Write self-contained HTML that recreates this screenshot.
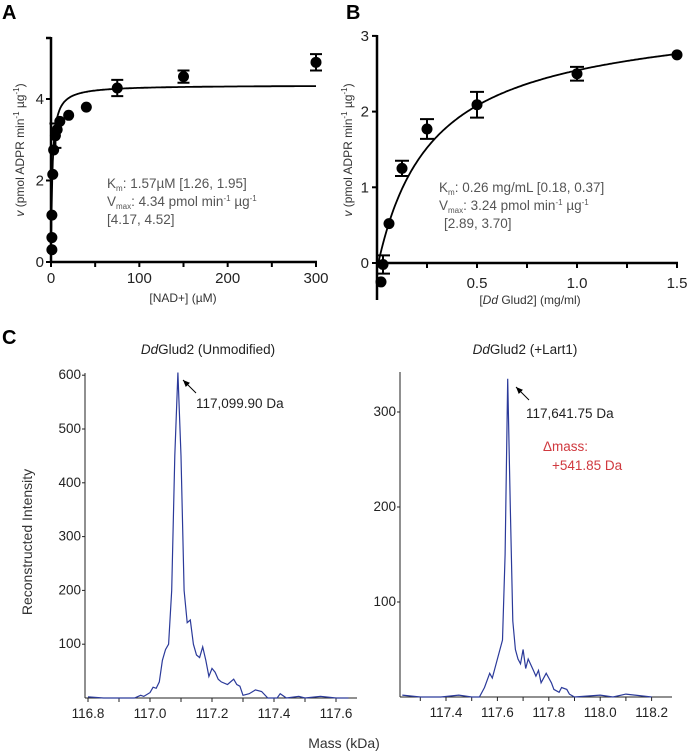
<!DOCTYPE html>
<html><head><meta charset="utf-8"><style>
body{margin:0;background:#fff}
svg{display:block;font-family:"Liberation Sans",sans-serif}
</style></head><body>
<svg id="fig" width="688" height="751" viewBox="0 0 688 751">
<g font-weight="bold" font-size="20" fill="#000">
<text x="2" y="19">A</text>
<text x="346" y="19">B</text>
<text x="2" y="344">C</text>
</g>
<g id="pa"></g>
<g id="pb"></g>
<g id="pc"></g>
</svg>
<script>
// Panel A data
const aX=[1,1,1,2,3,5,7,10,20,40,75,150,300];
const aY=[0.3,0.6,1.15,2.15,2.75,3.1,3.25,3.45,3.6,3.8,4.27,4.55,4.9];
const aErr=[0,0,0,0,0,0.3,0,0,0,0,0.2,0.15,0.2];
const aXTicks=[0,100,200,300];
const aYTicks=[0,2,4];
const aVmax=4.34, aKm=1.57;
// Panel B data
const bX=[0.02,0.03,0.06,0.125,0.25,0.5,1.0,1.5];
const bY=[-0.25,-0.02,0.52,1.25,1.77,2.09,2.5,2.75];
const bErr=[0,0.12,0,0.1,0.13,0.17,0.09,0];
const bXTicks=[0.5,1.0,1.5];
const bXTickLabels=["0.5","1.0","1.5"];
const bYTicks=[0,1,2,3];
const bVmax=3.24, bKm=0.26;
// Panel C spectra
const cLMass=[116.80,116.85,116.9,116.95,116.97,116.98,117.0,117.01,117.02,117.03,117.04,117.05,117.06,117.07,117.08,117.09,117.1,117.11,117.12,117.13,117.14,117.15,117.16,117.17,117.18,117.19,117.2,117.21,117.22,117.23,117.25,117.27,117.28,117.29,117.3,117.32,117.34,117.36,117.38,117.41,117.42,117.44,117.48,117.5,117.55,117.6,117.64];
const cLInt=[2,0,0,0,5,3,10,20,18,30,70,90,100,200,450,605,450,200,140,145,100,80,75,95,70,40,55,48,35,30,25,35,25,22,5,8,15,12,0,0,8,0,3,0,3,0,0];
const cRMass=[117.23,117.3,117.38,117.45,117.5,117.53,117.55,117.57,117.58,117.6,117.62,117.63,117.64,117.65,117.66,117.67,117.68,117.69,117.7,117.71,117.72,117.74,117.75,117.76,117.77,117.79,117.8,117.81,117.82,117.84,117.85,117.87,117.88,117.9,118.0,118.05,118.1,118.2];
const cRInt=[2,0,0,2,0,0,10,25,20,40,60,150,335,200,80,50,40,35,50,30,40,28,22,28,15,25,20,15,8,5,10,8,3,0,2,0,3,0];
const cLXTicks=[116.8,117.0,117.2,117.4,117.6];
const cLYTicks=[100,200,300,400,500,600];
const cRXTicks=[117.4,117.6,117.8,118.0,118.2];
const cRYTicks=[100,200,300];

const NS="http://www.w3.org/2000/svg";
function mk(p,t,a,txt){const e=document.createElementNS(NS,t);for(const k in a)e.setAttribute(k,a[k]);if(txt!==undefined)e.textContent=txt;p.appendChild(e);return e;}

// ---- Panel A ----
(function(){
const g=document.getElementById('pa');
const sx=v=>51+v*(265/300), sy=v=>262-v*40.75;
let e=mk(g,'line',{x1:51,y1:37,x2:51,y2:262,stroke:'#000','stroke-width':2.5});

e=mk(g,'line',{x1:50,y1:262,x2:317,y2:262,stroke:'#000','stroke-width':2.5});

mk(g,'line',{x1:46,y1:38,x2:51,y2:38,stroke:'#000','stroke-width':2.5});
for(let v=0;v<=300;v+=50){mk(g,'line',{x1:sx(v),y1:262,x2:sx(v),y2:267,stroke:'#000','stroke-width':2});}
aXTicks.forEach(v=>{e=mk(g,'text',{x:sx(v),y:283,'text-anchor':'middle','font-size':15,fill:'#222'},v);
});
aYTicks.forEach(v=>{mk(g,'line',{x1:46,y1:sy(v),x2:51,y2:sy(v),stroke:'#000','stroke-width':2});
e=mk(g,'text',{x:44,y:sy(v)+5,'text-anchor':'end','font-size':15,fill:'#222'},v);
});
let d='';for(let i=0;i<=300;i++){const x=i*i/300;const y=aVmax*x/(aKm+x);d+=(i?'L':'M')+sx(x).toFixed(1)+','+sy(y).toFixed(1);}
e=mk(g,'path',{d:d,fill:'none',stroke:'#000','stroke-width':1.8});

aX.forEach((x,i)=>{const cx=sx(x),cy=sy(aY[i]);
if(aErr[i]){const t=sy(aY[i]+aErr[i]),b=sy(aY[i]-aErr[i]);
mk(g,'path',{d:`M${cx},${t}V${b}M${cx-6},${t}H${cx+6}M${cx-6},${b}H${cx+6}`,stroke:'#000','stroke-width':2,fill:'none'});}
e=mk(g,'circle',{cx:cx,cy:cy,r:5.5,fill:'#000'});
});
e=mk(g,'text',{x:183,y:302,'text-anchor':'middle','font-size':12,fill:'#333'},'[NAD+] (µM)');

e=mk(g,'text',{transform:'translate(24,150) rotate(-90)','text-anchor':'middle','font-size':12,fill:'#333'});
e.innerHTML='<tspan font-style="italic">v</tspan> (pmol ADPR min<tspan font-size="8" dy="-5">-1</tspan><tspan dy="5"> µg</tspan><tspan font-size="8" dy="-5">-1</tspan><tspan dy="5">)</tspan>';

e=mk(g,'text',{x:107,y:188,'font-size':13.5,fill:'#555'});
e.innerHTML='K<tspan font-size="8" dy="3">m</tspan><tspan dy="-3">: 1.57µM [1.26, 1.95]</tspan>';

e=mk(g,'text',{x:107,y:206,'font-size':13.5,fill:'#555'});
e.innerHTML='V<tspan font-size="8" dy="3">max</tspan><tspan dy="-3">: 4.34 pmol min</tspan><tspan font-size="8" dy="-5">-1</tspan><tspan dy="5"> µg</tspan><tspan font-size="8" dy="-5">-1</tspan>';

e=mk(g,'text',{x:107,y:224,'font-size':13.5,fill:'#555'},'[4.17, 4.52]');

})();

// ---- Panel B ----
(function(){
const g=document.getElementById('pb');
const sx=v=>377+v*200, sy=v=>263-v*75.7;
let e=mk(g,'line',{x1:377,y1:35,x2:377,y2:300,stroke:'#000','stroke-width':2.5});

e=mk(g,'line',{x1:376,y1:263,x2:678,y2:263,stroke:'#000','stroke-width':2.5});

for(let v=0.25;v<=1.5001;v+=0.25){mk(g,'line',{x1:sx(v),y1:263,x2:sx(v),y2:268,stroke:'#000','stroke-width':2});}
bXTicks.forEach((v,i)=>{e=mk(g,'text',{x:sx(v),y:288,'text-anchor':'middle','font-size':15,fill:'#222'},bXTickLabels[i]);
});
bYTicks.forEach(v=>{mk(g,'line',{x1:372,y1:sy(v),x2:377,y2:sy(v),stroke:'#000','stroke-width':2});
e=mk(g,'text',{x:369,y:sy(v)+5,'text-anchor':'end','font-size':15,fill:'#222'},v);
});
let d='';for(let i=0;i<=200;i++){const x=1.5*i/200;const y=bVmax*x/(bKm+x)-0.08*(1-x/1.5);d+=(i?'L':'M')+sx(x).toFixed(1)+','+sy(y).toFixed(1);}
e=mk(g,'path',{d:d,fill:'none',stroke:'#000','stroke-width':1.8});

bX.forEach((x,i)=>{const cx=sx(x),cy=sy(bY[i]);
if(bErr[i]){const t=sy(bY[i]+bErr[i]),b=sy(bY[i]-bErr[i]);
mk(g,'path',{d:`M${cx},${t}V${b}M${cx-7},${t}H${cx+7}M${cx-7},${b}H${cx+7}`,stroke:'#000','stroke-width':2,fill:'none'});}
e=mk(g,'circle',{cx:cx,cy:cy,r:5.5,fill:'#000'});
});
e=mk(g,'text',{x:530,y:304,'text-anchor':'middle','font-size':12,fill:'#333'});
e.innerHTML='[<tspan font-style="italic">Dd</tspan> Glud2] (mg/ml)';

e=mk(g,'text',{transform:'translate(352,150) rotate(-90)','text-anchor':'middle','font-size':12,fill:'#333'});
e.innerHTML='<tspan font-style="italic">v</tspan> (pmol ADPR min<tspan font-size="8" dy="-5">-1</tspan><tspan dy="5"> µg</tspan><tspan font-size="8" dy="-5">-1</tspan><tspan dy="5">)</tspan>';

e=mk(g,'text',{x:439,y:192,'font-size':13.5,fill:'#555'});
e.innerHTML='K<tspan font-size="8" dy="3">m</tspan><tspan dy="-3">: 0.26 mg/mL [0.18, 0.37]</tspan>';

e=mk(g,'text',{x:439,y:210,'font-size':13.5,fill:'#555'});
e.innerHTML='V<tspan font-size="8" dy="3">max</tspan><tspan dy="-3">: 3.24 pmol min</tspan><tspan font-size="8" dy="-5">-1</tspan><tspan dy="5"> µg</tspan><tspan font-size="8" dy="-5">-1</tspan>';

e=mk(g,'text',{x:444,y:228,'font-size':13.5,fill:'#555'},'[2.89, 3.70]');

})();

// ---- Panel C ----
(function(){
const g=document.getElementById('pc');
function spec(o){
 const sx=v=>o.x0+(v-o.m0)*o.kx, sy=v=>o.y0-v*o.ky;
 let e=mk(g,'line',{x1:o.ax,y1:o.top,x2:o.ax,y2:o.y0,stroke:'#222','stroke-width':1});
 
 e=mk(g,'line',{x1:o.ax,y1:o.y0,x2:o.xend,y2:o.y0,stroke:'#222','stroke-width':1});
 
 for(let m=o.tickStart;m<=o.tickEnd+1e-6;m+=0.1){mk(g,'line',{x1:sx(m),y1:o.y0,x2:sx(m),y2:o.y0+4,stroke:'#222','stroke-width':1});}
 o.xt.forEach(v=>{e=mk(g,'text',{x:sx(v),y:o.y0+20,'text-anchor':'middle','font-size':13.5,fill:'#222'},v.toFixed(1));
 });
 o.yt.forEach(v=>{mk(g,'line',{x1:o.ax-3,y1:sy(v),x2:o.ax,y2:sy(v),stroke:'#222','stroke-width':1});
 e=mk(g,'text',{x:o.ax-4,y:sy(v)+4,'text-anchor':'end','font-size':13.5,fill:'#222'},v);
 });
 let d='';o.mass.forEach((m,i)=>{d+=(i?'L':'M')+sx(m).toFixed(1)+','+sy(o.inten[i]).toFixed(1);});
 e=mk(g,'path',{d:d,fill:'none',stroke:'#2b3a9a','stroke-width':1.2});
 
}
spec({p:'c-left',ax:85,top:373,y0:698,xend:357,x0:88,m0:116.8,kx:310,ky:0.538,tickStart:116.8,tickEnd:117.6,xt:cLXTicks,yt:cLYTicks,mass:cLMass,inten:cLInt});
spec({p:'c-right',ax:400,top:372,y0:697,xend:672,x0:446,m0:117.4,kx:257,ky:0.95,tickStart:117.3,tickEnd:118.2,xt:cRXTicks,yt:cRYTicks,mass:cRMass,inten:cRInt});
let e=mk(g,'text',{x:208,y:354,'text-anchor':'middle','font-size':13.5,fill:'#222'});
e.innerHTML='<tspan font-style="italic">Dd</tspan>Glud2 (Unmodified)';

e=mk(g,'text',{x:525,y:354,'text-anchor':'middle','font-size':13.5,fill:'#222'});
e.innerHTML='<tspan font-style="italic">Dd</tspan>Glud2 (+Lart1)';

mk(g,'defs',{}).innerHTML='<marker id="ah" markerWidth="8" markerHeight="8" refX="7" refY="4" orient="auto"><path d="M0,1L7,4L0,7z" fill="#000"/></marker>';
mk(g,'line',{x1:196,y1:393,x2:183,y2:380,stroke:'#000','stroke-width':1,'marker-end':'url(#ah)'});
mk(g,'line',{x1:529,y1:400,x2:516,y2:387,stroke:'#000','stroke-width':1,'marker-end':'url(#ah)'});
e=mk(g,'text',{x:196,y:408,'font-size':13.5,fill:'#222'},'117,099.90 Da');

e=mk(g,'text',{x:526,y:418,'font-size':13.5,fill:'#222'},'117,641.75 Da');

e=mk(g,'text',{x:543,y:451,'font-size':13.5,fill:'#d0393f'},'Δmass:');

e=mk(g,'text',{x:552,y:470,'font-size':13.5,fill:'#d0393f'},'+541.85 Da');

e=mk(g,'text',{x:344,y:748,'text-anchor':'middle','font-size':14,fill:'#333'},'Mass (kDa)');

e=mk(g,'text',{transform:'translate(32,542) rotate(-90)','text-anchor':'middle','font-size':14,fill:'#333'},'Reconstructed Intensity');

})();
</script>
</body></html>
